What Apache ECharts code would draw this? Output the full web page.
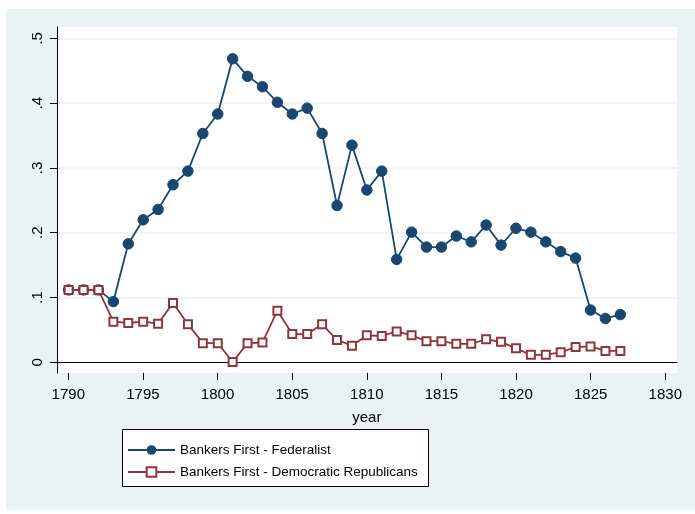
<!DOCTYPE html>
<html>
<head>
<meta charset="utf-8">
<script src="https://cdn.jsdelivr.net/npm/echarts@6/dist/echarts.min.js"></script>
<style>
  html, body { margin: 0; padding: 0; background: #fff; }
  #chart { width: 695px; height: 514px; }
</style>
</head>
<body>
<div id="chart"></div>
<script>
// data
const years = [1790, 1791, 1792, 1793, 1794, 1795, 1796, 1797, 1798, 1799,
    1800, 1801, 1802, 1803, 1804, 1805, 1806, 1807, 1808, 1809,
    1810, 1811, 1812, 1813, 1814, 1815, 1816, 1817, 1818, 1819,
    1820, 1821, 1822, 1823, 1824, 1825, 1826, 1827];
const federalist = [0.111, 0.111, 0.111, 0.093, 0.182, 0.219, 0.235, 0.273, 0.294, 0.352,
    0.382, 0.467, 0.440, 0.424, 0.400, 0.382, 0.391, 0.352, 0.241, 0.334,
    0.265, 0.294, 0.158, 0.200, 0.177, 0.177, 0.194, 0.185, 0.211, 0.180,
    0.206, 0.200, 0.185, 0.170, 0.160, 0.080, 0.067, 0.073];
const demRep = [0.111, 0.111, 0.111, 0.062, 0.060, 0.062, 0.059, 0.091, 0.058, 0.029,
    0.029, 0.000, 0.029, 0.030, 0.079, 0.043, 0.043, 0.058, 0.034, 0.025,
    0.041, 0.040, 0.047, 0.041, 0.032, 0.032, 0.028, 0.028, 0.035, 0.031,
    0.021, 0.011, 0.011, 0.015, 0.023, 0.024, 0.017, 0.017];
const seriesNames = ['Bankers First - Federalist', 'Bankers First - Democratic Republicans'];
const xTitle = 'year';

const FONT = "'Liberation Sans', Arial, sans-serif";
const NAVY = '#1a476f';
const MAROON = '#90353b';

const chart = echarts.init(document.getElementById('chart'), null, { renderer: 'canvas' });

const pairs = arr => years.map((y, i) => [y, arr[i]]);

chart.setOption({
    backgroundColor: '#fff',
    animation: false,
    graphic: [
        // outer panel
        { type: 'rect', z: -100, silent: true,
          shape: { x: 6, y: 9, width: 689, height: 501 },
          style: { fill: '#eaf2f3' } },
        // legend box
        { type: 'rect', z: -50, silent: true,
          shape: { x: 122.5, y: 429.5, width: 306, height: 57 },
          style: { fill: '#fff', stroke: '#000', lineWidth: 1 } }
    ],
    grid: [
        // plot box (data lives here)
        { left: 57, right: 18, top: 27, bottom: 141, show: true, backgroundColor: '#fff', borderWidth: 0 },
        // y ticks / gridlines, 0 .. .5
        { left: 57, right: 18, top: 38.3, bottom: 151.7 },
        // x ticks, 1790 .. 1830
        { left: 68.3, right: 29.7, top: 27, bottom: 141 }
    ],
    xAxis: [
        { gridIndex: 0, type: 'value', min: 1789.22, max: 1830.8,
          axisLine: { show: true, lineStyle: { color: '#000', width: 1 } },
          axisTick: { show: false }, axisLabel: { show: false }, splitLine: { show: false } },
        { gridIndex: 1, type: 'value', min: 0, max: 1, show: false },
        { gridIndex: 2, type: 'value', min: 1790, max: 1830, interval: 5,
          name: xTitle, nameLocation: 'middle', nameGap: 37,
          nameTextStyle: { fontFamily: FONT, fontSize: 15, color: '#000' },
          axisLine: { show: false },
          axisTick: { show: true, length: 7, lineStyle: { color: '#000' } },
          axisLabel: { fontFamily: FONT, fontSize: 15, color: '#000', margin: 14,
                       formatter: v => String(v) },
          splitLine: { show: false } }
    ],
    yAxis: [
        { gridIndex: 0, type: 'value', min: -0.017, max: 0.516,
          axisLine: { show: true, lineStyle: { color: '#000', width: 1 } },
          axisTick: { show: false }, axisLabel: { show: false }, splitLine: { show: false } },
        { gridIndex: 1, type: 'value', min: 0, max: 0.5, interval: 0.1,
          axisLine: { show: false },
          axisTick: { show: true, length: 7, lineStyle: { color: '#000' } },
          axisLabel: { fontFamily: FONT, fontSize: 15, color: '#000', rotate: 90, margin: 12,
                       formatter: v => v === 0 ? '0' : v.toFixed(1).replace(/^0/, '') },
          splitLine: { show: true, lineStyle: { color: '#eaf2f3', width: 1.5 } } },
        { gridIndex: 2, type: 'value', min: 0, max: 1, show: false }
    ],
    legend: {
        left: 122, top: 429, orient: 'vertical',
        padding: [12, 8, 8, 5],
        itemWidth: 47, itemHeight: 12, itemGap: 4,
        textStyle: { fontFamily: FONT, fontSize: 13.5, color: '#000', lineHeight: 18 },
        data: seriesNames
    },
    series: [
        { name: seriesNames[0], type: 'line', xAxisIndex: 0, yAxisIndex: 0,
          data: pairs(federalist), symbol: 'circle', symbolSize: 10.5,
          lineStyle: { color: NAVY, width: 1.8 },
          itemStyle: { color: NAVY, borderColor: NAVY }, z: 3 },
        { name: seriesNames[1], type: 'line', xAxisIndex: 0, yAxisIndex: 0,
          data: pairs(demRep), symbol: 'rect', symbolSize: 8,
          lineStyle: { color: MAROON, width: 1.8 },
          itemStyle: { color: '#fff', borderColor: MAROON, borderWidth: 2 }, z: 4 }
    ]
});
</script>
</body>
</html>
